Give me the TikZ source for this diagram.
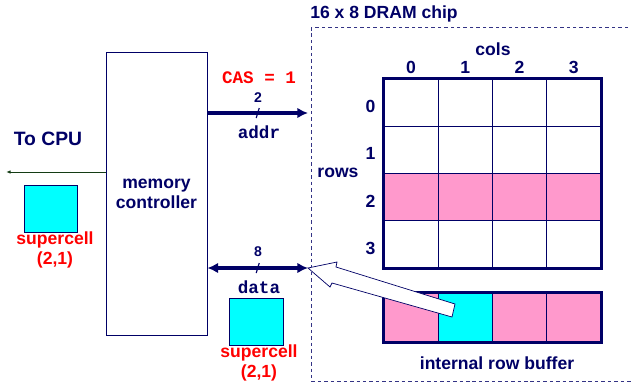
\documentclass[tikz,border=0pt]{standalone}
\usepackage{fontspec}
\setmainfont{Liberation Sans}
\setmonofont{Liberation Mono}
\usetikzlibrary{arrows.meta, positioning, calc}
\definecolor{navy}{RGB}{0,0,102}
\definecolor{cellpink}{RGB}{255,153,204}
\definecolor{cellcyan}{RGB}{0,255,255}
\definecolor{cpugreen}{RGB}{20,60,20}

\begin{document}
\begin{tikzpicture}[x=0.03cm, y=-0.03cm]
  \tikzset{lbl/.style={font=\fontsize{15}{17}\selectfont\bfseries, text=navy, inner sep=0pt}}
  \tikzset{redlbl/.style={lbl, text=red, align=center}}
  \tikzset{sig/.style={font=\fontsize{15}{17}\selectfont\ttfamily\bfseries, text=navy, inner sep=0pt}}
  \tikzset{buswidth/.style={font=\fontsize{12}{14}\selectfont\bfseries, text=navy, inner sep=0pt}}
  \tikzset{cell/.style={rectangle, draw=navy, line width=0.8pt, inner sep=0pt,
                        minimum width=1.6275cm, minimum height=1.4175cm}}
  \tikzset{bufcell/.style={cell, minimum height=1.47cm}}
  \tikzset{sccell/.style={cell, fill=cellcyan, minimum width=1.6cm, minimum height=1.41cm}}
  \tikzset{busline/.style={navy, line width=2.6pt}}
  \tikzset{bustip/.tip={Latex[length=9pt,width=9pt]}}
  \useasboundingbox (0,0) rectangle (631,383);

  % DRAM chip outline (runs off the right edge)
  \draw[navy!80, dash pattern=on 3pt off 2.5pt, line width=0.8pt] (311,27) rectangle (660,381);
  \node[lbl] (chip) at (384,14) {16 x 8 DRAM chip};

  % memory controller
  \node[lbl, rectangle, draw=navy, line width=0.8pt, align=center,
        minimum width=3.03cm, minimum height=8.49cm] (mc) at (156.5,193.5) {memory\\controller};

  % supercell array, row 2 is the open row
  \foreach \r/\col in {0/white,1/white,2/cellpink,3/white}{
    \foreach \c in {0,...,3}{
      \node[cell, fill=\col] (c\r\c) at ({384+54.25*(\c+0.5)}, {79+47.25*(\r+0.5)}) {};
    }
    \node[lbl] (row\r) at ($(c\r0.west)+(-13,4)$) {\r};
  }
  \draw[navy, line width=2.5pt] (c00.north west) rectangle (c33.south east);
  \foreach \c in {0,...,3}{
    \node[lbl] (col\c) at ($(c0\c.north)+(0,-11)$) {\c};
  }
  \node[lbl] (cols) at (493,49) {cols};
  \node[lbl] (rows) at (338,173) {rows};

  % internal row buffer
  \foreach \c/\col in {0/cellpink,1/cellcyan,2/cellpink,3/cellpink}{
    \node[bufcell, fill=\col] (b\c) at ({384+54.25*(\c+0.5)}, 317.5) {};
  }
  \draw[navy, line width=2.5pt] (b0.north west) rectangle (b3.south east);
  \node[lbl] (rbuf) at (497,363) {internal row buffer};

  % addr bus
  \coordinate (addrend) at (308,113);
  \draw[busline, -bustip] (mc.east |- addrend) -- (addrend);
  \draw[navy, line width=1pt] ($(mc.east |- addrend)!0.5!(addrend)$) +(-1.5,5) -- +(1.5,-5);
  \node[buswidth] (addrw) at (258,98) {2};
  \node[sig] (addr) at (259,132) {addr};
  \node[sig, text=red] (cas) at (259,78) {CAS = 1};

  % data bus
  \coordinate (dataend) at (308,268);
  \draw[busline, bustip-bustip] (mc.east |- dataend) -- (dataend);
  \draw[navy, line width=1pt] ($(mc.east |- dataend)!0.5!(dataend)$) +(-1.5,5) -- +(1.5,-5);
  \node[buswidth] (dataw) at (258,252) {8};
  \node[sig] (data) at (259,287) {data};
  \node[sccell] (sc) at (256.5,321.5) {};
  \node[redlbl] (sclbl) at (259,363) {supercell\\(2,1)};

  % supercell leaves the buffer
  \draw[navy, line width=0.6pt, fill=white] (dataend) -- (337,262) -- (336,267) -- (455,304)
    -- (452,317) -- (332,283) -- (330,287) -- cycle;

  % to the CPU
  \node[lbl, font=\fontsize{16.5}{18}\selectfont\bfseries] (cpu) at (48,139) {To CPU};
  \coordinate (cpuend) at (6,172);
  \draw[cpugreen, line width=0.8pt, -{Latex[length=4pt,width=3pt]}] (mc.west |- cpuend) -- (cpuend);
  \node[sccell] (scl) at (51,208.5) {};
  \node[redlbl] (scllbl) at (55,250) {supercell\\(2,1)};
\end{tikzpicture}
\end{document}
